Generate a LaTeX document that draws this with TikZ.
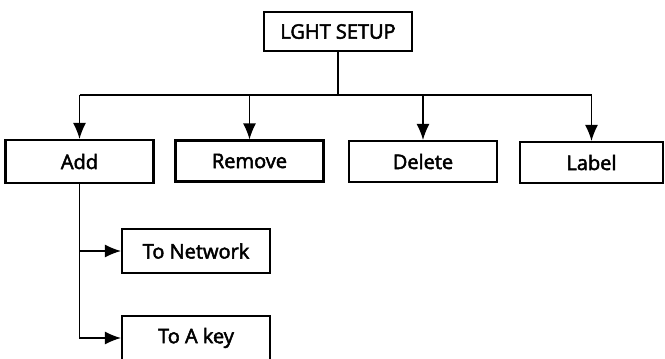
\documentclass[tikz,border=0pt]{standalone}
\usepackage{fontspec}
\newfontfamily\boxfont{Open Sans}[FakeBold = 2.5]
\usepackage{tikz}
\usetikzlibrary{arrows.meta}

\begin{document}
\begin{tikzpicture}[x = 0.5pt, y = -0.5pt,
    box/.style = {draw, line width = 1.1pt, minimum width = 74pt, minimum height = 20.5pt, inner sep = 0pt, font = \boxfont\fontsize{10}{12}\selectfont},
    line/.style = {line width = 0.6pt},
    arr/.style = {line width = 0.6pt, -{Latex[length = 8pt, width = 6.5pt]}}]
      \useasboundingbox (0,0) rectangle (665,359);
      \node[box, minimum height = 19.5pt] (setup) at (338,31.5) {LGHT SETUP};
      \node[box, minimum height = 21.5pt] (add) at (79.5,161.5) {Add};
      \node[box] (remove) at (249.5,161) {Remove};
      \node[box] (delete) at (423,161.5) {Delete};
      \node[box, minimum width = 71.5pt] (label) at (591.5,162.5) {Label};
      \node[box, minimum height = 22pt] (network) at (196,251) {To Network};
      \node[box, minimum height = 22pt] (akey) at (196,338) {To A key};
      \coordinate (split) at (setup.south |- 0,95);
      \draw[line] (setup.south) -- (split)
                  (add.north |- split) -- (label.north |- split);
      \foreach \n in {add, remove, delete, label}
        \draw[arr] (\n.north |- split) -- (\n.north);
      \draw[arr] (add.south) |- (network.west);
      \draw[arr] (add.south) |- (akey.west);
    \end{tikzpicture}
\end{document}
